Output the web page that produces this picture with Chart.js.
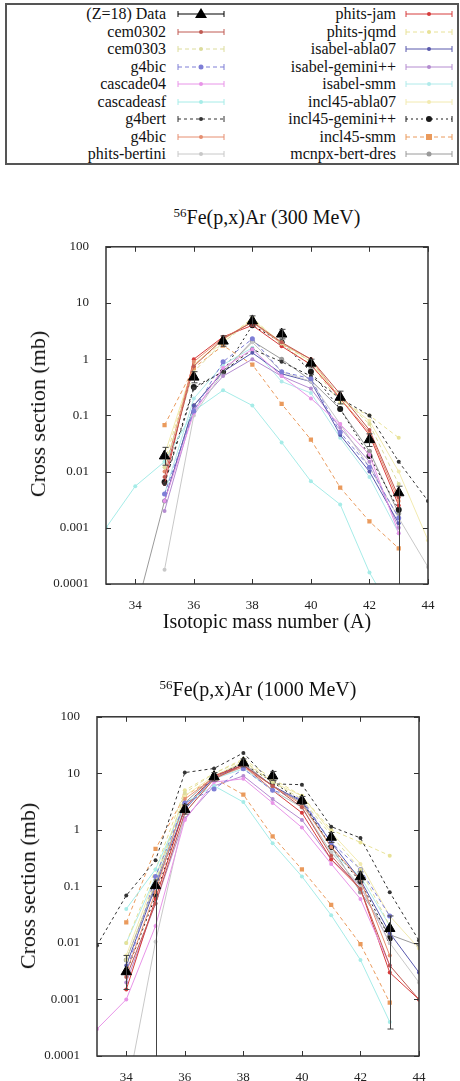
<!DOCTYPE html>
<html lang="en">
<head>
<meta charset="UTF-8">
<title>56Fe(p,x)Ar isotopic cross sections</title>
<style>
  html, body { margin: 0; padding: 0; background: #fff; overflow: hidden; }
  body { width: 460px; height: 1081px; position: relative; font-family: "Liberation Serif", serif; color: #111; }
  .legend { position: absolute; left: 5px; top: 3px; width: 450px; height: 158px; border: 2px solid #555; }
  .lab { position: absolute; font-size: 16px; line-height: 18px; height: 18px; text-align: right; white-space: nowrap; }
  .smp { position: absolute; }
  canvas { position: absolute; left: 0; }
  .title { position: absolute; font-size: 20px; white-space: nowrap; transform: translate(-50%, -50%); }
  .title sup { font-size: 13px; vertical-align: 7px; line-height: 0; }
  .axt { position: absolute; font-size: 20px; white-space: nowrap; transform: translate(-50%, -50%); }
  .axt.rot { font-size: 22px; transform: translate(-50%, -50%) rotate(-90deg); }
</style>
</head>
<body>

<div class="legend" id="legend"></div>

<div class="title" style="left:267px; top:217px;"><sup>56</sup>Fe(p,x)Ar (300 MeV)</div>
<canvas id="chart300" width="460" height="410" style="top:230px;"></canvas>
<div class="axt rot" style="left:38px; top:414px;">Cross section (mb)</div>
<div class="axt" style="left:267px; top:621px;">Isotopic mass number (A)</div>

<div class="title" style="left:258px; top:689px;"><sup>56</sup>Fe(p,x)Ar (1000 MeV)</div>
<canvas id="chart1000" width="460" height="381" style="top:700px;"></canvas>
<div class="axt rot" style="left:28px; top:886px;">Cross section (mb)</div>
<div class="axt" style="left:258px; top:1093px;">Isotopic mass number (A)</div>

<script src="https://cdn.jsdelivr.net/npm/chart.js"></script>
<script>
// mass numbers the values below are listed for
const masses = [33, 34, 35, 36, 37, 38, 39, 40, 41, 42, 43, 44];
const xTicks = [34, 36, 38, 40, 42, 44];
const yTicks = [0.0001, 0.001, 0.01, 0.1, 1, 10, 100];
const yTickLabels = ['0.0001', '0.001', '0.01', '0.1', '1', '10', '100'];

const names = ['(Z=18) Data', 'cem0302', 'cem0303', 'g4bic', 'cascade04', 'cascadeasf', 'g4bert', 'g4bic', 'phits-bertini',
  'phits-jam', 'phits-jqmd', 'isabel-abla07', 'isabel-gemini++', 'isabel-smm', 'incl45-abla07', 'incl45-gemini++', 'incl45-smm', 'mcnpx-bert-dres'];

// ---- 300 MeV ----
const data300 =        [null, null, 0.019, 0.48, 2.1, 4.8, 2.8, 0.85, 0.21, 0.037, 0.0042, null];
const data300Lo =      [null, null, 0.013, 0.38, 1.7, 3.9, 2.3, 0.7, 0.16, 0.028, 0.00001, null];
const data300Hi =      [null, null, 0.027, 0.6, 2.6, 5.9, 3.4, 1.0, 0.27, 0.047, 0.0055, null];
const cem0302_300 =    [null, null, 0.008, 0.75, 2.3, 4.6, 2.0, 1.0, 0.24, 0.055, 0.0035, null];
const cem0303_300 =    [null, null, 0.012, 0.6, 2.0, 4.9, 1.9, 0.9, 0.22, 0.07, 0.006, null];
const g4bicA_300 =     [null, null, 0.004, 0.12, 0.9, 2.3, 0.6, 0.45, 0.05, 0.012, 0.0015, null];
const cascade04_300 =  [null, null, 0.003, 0.11, 0.7, 1.5, 0.5, 0.2, 0.07, 0.02, 0.0008, null];
const cascadeasf_300 = [0.001, 0.0055, 0.015, 0.12, 0.28, 0.15, 0.033, 0.0067, 0.0026, 0.00016, 0.00002, null];
const g4bert_300 =     [null, null, 0.006, 0.3, 0.6, 1.5, 0.9, 0.5, 0.2, 0.1, 0.015, 0.003];
const g4bicB_300 =     [null, null, 0.01, 0.9, 2.4, 4.5, 1.9, 1.0, 0.2, 0.05, 0.003, null];
const phitsBert_300 =  [null, null, 0.00018, 0.1, 0.6, 2.0, 0.6, 0.4, 0.07, 0.012, 0.0015, 0.0002];
const phitsJam_300 =   [null, null, 0.006, 1.0, 2.5, 4.0, 1.7, 0.8, 0.2, 0.045, 0.0025, null];
const phitsJqmd_300 =  [null, null, 0.015, 0.8, 2.0, 5.5, 1.8, 0.8, 0.17, 0.1, 0.04, null];
const isaAbla_300 =    [null, null, 0.003, 0.15, 0.6, 1.3, 0.55, 0.4, 0.045, 0.01, 0.0012, null];
const isaGemini_300 =  [null, null, 0.002, 0.13, 0.5, 1.0, 0.5, 0.3, 0.06, 0.015, 0.001, null];
const isaSmm_300 =     [null, null, 0.004, 0.2, 0.8, 1.6, 0.4, 0.25, 0.04, 0.008, 0.0008, null];
const inclAbla_300 =   [null, null, 0.02, 0.8, 2.2, 5.0, 2.0, 0.9, 0.2, 0.08, 0.01, 0.0006];
const inclGemini_300 = [null, null, 0.0065, 0.32, 0.6, 4.0, 2.0, 0.6, 0.13, 0.019, 0.0021, null];
const inclSmm_300 =    [null, null, 0.067, 0.7, 1.75, 0.8, 0.16, 0.037, 0.0052, 0.0013, 0.00043, null];
const mcnpx_300 =      [null, 0.00003, 0.003, 0.15, 0.6, 2.1, 1.0, 0.42, 0.13, 0.023, 0.0018, null];

// ---- 1000 MeV ----
const data1000 =        [null, 0.0031, 0.103, 2.3, 8.7, 15.4, 9.0, 3.3, 0.74, 0.148, 0.018, null];
const data1000Lo =      [null, 0.0015, 0.00001, 1.9, 7.3, 13, 7.5, 2.8, 0.6, 0.12, 0.0003, null];
const data1000Hi =      [null, 0.006, 0.13, 2.8, 10.3, 18, 10.8, 3.9, 0.9, 0.18, 0.03, null];
const cem0302_1000 =    [null, 0.0025, 0.05, 2.0, 8, 14, 6, 2.5, 0.35, 0.09, 0.004, 0.001];
const cem0303_1000 =    [null, 0.005, 0.12, 4.5, 10, 17, 7, 3.5, 0.8, 0.2, 0.02, null];
const g4bicA_1000 =     [null, 0.003, 0.15, 3, 5.3, 12, 5, 3.5, 0.6, 0.2, 0.03, null];
const cascade04_1000 =  [0.0003, 0.001, 0.02, 1.5, 7, 8, 3, 1.1, 0.25, 0.06, 0.004, null];
const cascadeasf_1000 = [null, 0.04, 0.2, 3, 6, 3.1, 0.58, 0.15, 0.031, 0.005, 0.0004, null];
const g4bert_1000 =     [0.009, 0.069, 0.29, 10.3, 12.2, 23, 6.5, 6.3, 1.14, 0.72, 0.079, 0.011];
const g4bicB_1000 =     [null, 0.003, 0.08, 3.5, 8.5, 13, 6, 2.8, 0.5, 0.13, 0.006, null];
const phitsBert_1000 =  [null, 0.00002, 0.0105, 2, 8, 13, 5, 2.5, 0.4, 0.1, 0.01, 0.002];
const phitsJam_1000 =   [null, 0.0015, 0.06, 2.5, 9, 14, 5, 2.0, 0.3, 0.09, 0.003, 0.001];
const phitsJqmd_1000 =  [null, 0.01, 0.2, 5, 10, 18, 8, 4, 1.0, 0.6, 0.35, null];
const isaAbla_1000 =    [null, 0.004, 0.1, 2.3, 8.5, 14, 6, 3.2, 0.6, 0.13, 0.015, 0.003];
const isaGemini_1000 =  [null, 0.002, 0.05, 1.6, 6, 9, 3.5, 1.5, 0.3, 0.1, 0.01, null];
const isaSmm_1000 =     [null, 0.01, 0.15, 2.5, 8, 12, 5, 2.5, 0.4, 0.15, 0.02, null];
const inclAbla_1000 =   [null, 0.006, 0.15, 4, 9, 16, 7, 4, 0.9, 0.25, 0.03, 0.008];
const inclGemini_1000 = [null, 0.003, 0.068, 2.5, 9, 15, 7, 3.2, 0.5, 0.12, 0.012, null];
const inclSmm_1000 =    [null, 0.023, 0.46, 4.0, 8.2, 4.2, 0.77, 0.2, 0.047, 0.0095, 0.00088, null];
const mcnpx_1000 =      [null, 0.005, 0.11, 3, 9, 15, 6, 3.0, 0.5, 0.08, 0.014, 0.009];

const values300 = [data300, cem0302_300, cem0303_300, g4bicA_300, cascade04_300, cascadeasf_300, g4bert_300, g4bicB_300, phitsBert_300,
  phitsJam_300, phitsJqmd_300, isaAbla_300, isaGemini_300, isaSmm_300, inclAbla_300, inclGemini_300, inclSmm_300, mcnpx_300];
const values1000 = [data1000, cem0302_1000, cem0303_1000, g4bicA_1000, cascade04_1000, cascadeasf_1000, g4bert_1000, g4bicB_1000, phitsBert_1000,
  phitsJam_1000, phitsJqmd_1000, isaAbla_1000, isaGemini_1000, isaSmm_1000, inclAbla_1000, inclGemini_1000, inclSmm_1000, mcnpx_1000];

// line styles, same order as names (gnuplot-ish, washed out)
const styles = [
  { color: '#000000', dash: [], point: 'triangle', r: 6, line: false },
  { color: '#c05a52', dash: [], point: 'circle', r: 2 },
  { color: '#dcdc9c', dash: [4, 3], point: 'circle', r: 2 },
  { color: '#7e7ed6', dash: [4, 3], point: 'circle', r: 2.5 },
  { color: '#e894e8', dash: [], point: 'circle', r: 2 },
  { color: '#a6ece8', dash: [], point: 'circle', r: 2 },
  { color: '#333333', dash: [3, 3], point: 'circle', r: 2 },
  { color: '#e68e70', dash: [], point: 'circle', r: 2 },
  { color: '#c8c8c8', dash: [], point: 'circle', r: 2 },
  { color: '#d63c3c', dash: [], point: 'circle', r: 2 },
  { color: '#e8e298', dash: [4, 3], point: 'circle', r: 2 },
  { color: '#5858ac', dash: [], point: 'circle', r: 2 },
  { color: '#b48cd0', dash: [], point: 'circle', r: 2 },
  { color: '#b0eaea', dash: [], point: 'circle', r: 2 },
  { color: '#f2eab0', dash: [], point: 'circle', r: 2 },
  { color: '#1a1a1a', dash: [2, 3], point: 'circle', r: 3 },
  { color: '#ea9a5c', dash: [4, 3], point: 'rect', r: 3 },
  { color: '#9a9a9a', dash: [], point: 'circle', r: 2.5 }
];

// legend
const legend = document.getElementById('legend');
names.forEach((name, i) => {
  const col = i < 9 ? 0 : 1;
  const row = i % 9;
  const cy = 9 + row * 17.5;
  const lab = document.createElement('div');
  lab.className = 'lab';
  lab.textContent = name;
  lab.style.top = (cy - 9) + 'px';
  lab.style.left = (col ? 200 : 0) + 'px';
  lab.style.width = (col ? 189 : 159) + 'px';
  legend.appendChild(lab);

  const st = styles[i];
  const ns = 'http://www.w3.org/2000/svg';
  const svg = document.createElementNS(ns, 'svg');
  svg.setAttribute('width', 48);
  svg.setAttribute('height', 14);
  svg.setAttribute('class', 'smp');
  svg.style.left = (col ? 398 : 170) + 'px';
  svg.style.top = (cy - 7) + 'px';
  const w = i === 0 ? 1.2 : 1;
  let html = `<line x1="1" y1="7" x2="47" y2="7" stroke="${st.color}" stroke-width="${w}" stroke-dasharray="${st.dash.join(',')}"/>`;
  html += `<line x1="1" y1="4" x2="1" y2="10" stroke="${st.color}"/><line x1="47" y1="4" x2="47" y2="10" stroke="${st.color}"/>`;
  if (st.point === 'triangle') html += `<polygon points="24,1 30,11 18,11" fill="#000"/>`;
  else if (st.point === 'rect') html += `<rect x="21" y="4" width="6" height="6" fill="${st.color}"/>`;
  else html += `<circle cx="24" cy="7" r="${st.r}" fill="${st.color}"/>`;
  svg.innerHTML = html;
  legend.appendChild(svg);
});

// frame + inward gnuplot-style ticks on all four sides
const framePlugin = {
  id: 'frame',
  afterDraw(chart) {
    const { ctx, chartArea: a, scales: { x, y } } = chart;
    ctx.save();
    ctx.strokeStyle = '#333';
    ctx.lineWidth = 1.5;
    ctx.strokeRect(a.left, a.top, a.right - a.left, a.bottom - a.top);
    ctx.lineWidth = 1;
    ctx.beginPath();
    xTicks.forEach(v => {
      const px = Math.round(x.getPixelForValue(v)) + 0.5;
      ctx.moveTo(px, a.bottom); ctx.lineTo(px, a.bottom - 5);
      ctx.moveTo(px, a.top); ctx.lineTo(px, a.top + 5);
    });
    yTicks.forEach(v => {
      const py = Math.round(y.getPixelForValue(v)) + 0.5;
      ctx.moveTo(a.left, py); ctx.lineTo(a.left + 5, py);
      ctx.moveTo(a.right, py); ctx.lineTo(a.right - 5, py);
    });
    ctx.stroke();
    ctx.restore();
  }
};

// vertical error bars for datasets carrying errLo / errHi
const errorPlugin = {
  id: 'errbars',
  afterDatasetsDraw(chart) {
    const { ctx, chartArea: a, scales: { x, y } } = chart;
    ctx.save();
    ctx.beginPath();
    ctx.rect(a.left, a.top, a.right - a.left, a.bottom - a.top);
    ctx.clip();
    chart.data.datasets.forEach(ds => {
      if (!ds.errLo) return;
      ctx.strokeStyle = '#444';
      ctx.lineWidth = 1;
      masses.forEach((m, j) => {
        if (ds.errLo[j] == null) return;
        const px = Math.round(x.getPixelForValue(m)) + 0.5;
        const y1 = y.getPixelForValue(ds.errLo[j]);
        const y2 = y.getPixelForValue(ds.errHi[j]);
        ctx.beginPath();
        ctx.moveTo(px, y1); ctx.lineTo(px, y2);
        ctx.moveTo(px - 3, y1); ctx.lineTo(px + 3, y1);
        ctx.moveTo(px - 3, y2); ctx.lineTo(px + 3, y2);
        ctx.stroke();
      });
    });
    ctx.restore();
  }
};

Chart.defaults.font.family = '"Liberation Serif", serif';
Chart.defaults.font.size = 13;
Chart.defaults.color = '#222';

function makeChart(id, values, lo, hi, pad, yWidth, xHeight) {
  const datasets = values.map((vals, i) => {
    const st = styles[i];
    return {
      label: names[i],
      data: masses.map((m, j) => ({ x: m, y: vals[j] })),
      borderColor: st.color,
      backgroundColor: st.color,
      borderWidth: 1,
      borderDash: st.dash,
      pointStyle: st.point,
      pointRadius: st.r,
      pointBorderWidth: i === 0 ? 1 : 0,
      showLine: st.line !== false,
      errLo: i === 0 ? lo : undefined,
      errHi: i === 0 ? hi : undefined
    };
  });

  return new Chart(document.getElementById(id), {
    type: 'scatter',
    data: { datasets },
    options: {
      responsive: false,
      animation: false,
      layout: { padding: pad },
      plugins: { legend: { display: false }, tooltip: { enabled: false } },
      scales: {
        x: {
          type: 'linear', min: 33, max: 44,
          grid: { display: false },
          border: { display: false },
          afterBuildTicks: s => { s.ticks = xTicks.map(v => ({ value: v })); },
          afterFit: s => { s.height = xHeight; },
          ticks: { padding: 6, maxRotation: 0, autoSkip: false, callback: v => String(v) }
        },
        y: {
          type: 'logarithmic', min: 0.0001, max: 100,
          grid: { display: false },
          border: { display: false },
          afterBuildTicks: s => { s.ticks = yTicks.map(v => ({ value: v })); },
          afterFit: s => { s.width = yWidth; },
          ticks: {
            padding: 9, autoSkip: false,
            callback: v => {
              const k = yTicks.findIndex(t => Math.abs(Math.log10(t) - Math.log10(v)) < 1e-6);
              return k >= 0 ? yTickLabels[k] : '';
            }
          }
        }
      }
    },
    plugins: [errorPlugin, framePlugin]
  });
}

makeChart('chart300', values300, data300Lo, data300Hi, { top: 9, right: 32, left: 0, bottom: 0 }, 106, 56);
makeChart('chart1000', values1000, data1000Lo, data1000Hi, { top: 11, right: 41, left: 0, bottom: 0 }, 97, 25);
</script>
</body>
</html>
